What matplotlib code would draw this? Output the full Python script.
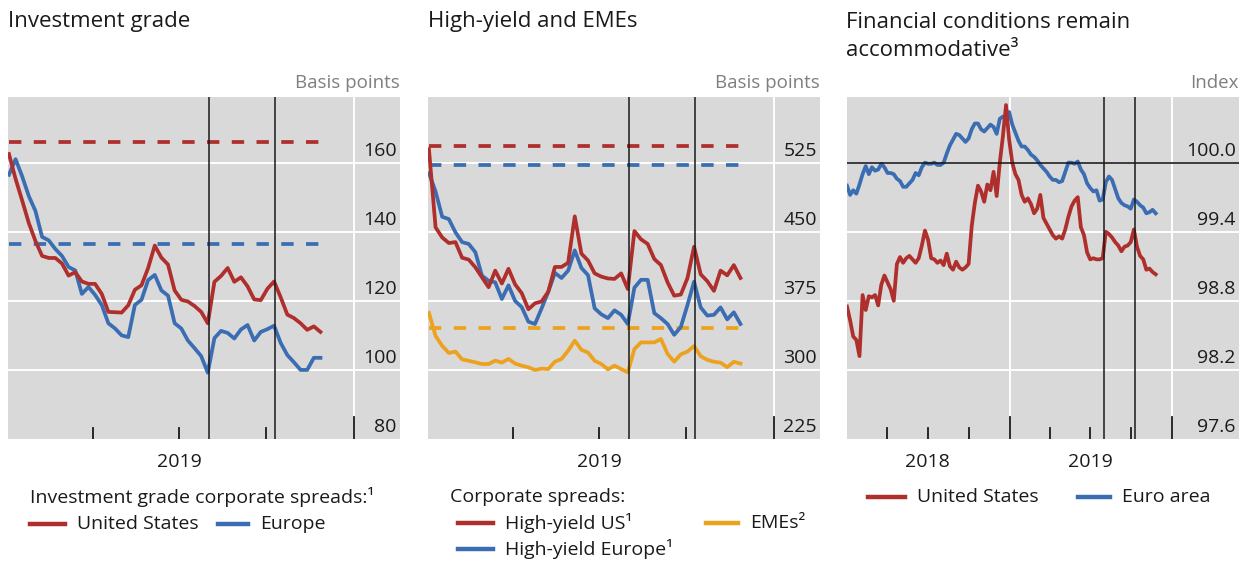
import pandas as pd
import matplotlib
matplotlib.use('Agg')
import matplotlib.pyplot as plt
import matplotlib.transforms as mtransforms
from matplotlib.lines import Line2D

plt.rcParams['font.family'] = ['Open Sans', 'DejaVu Sans']

RED = '#AE2F2C'
BLUE = '#3B6DB3'
ORANGE = '#EDA21F'
BG = '#D9D9D9'
TXT = '#1A1A1A'
LW = 2.7

# ---- data (weekly) ----
# Investment grade spreads, basis points, weekly from 2 Jan 2019
ig_us = [162.5, 155.3, 149.0, 142.5, 137.3, 133.0, 132.4, 132.4, 130.8, 127.3,
         128.3, 125.6, 124.9, 124.9, 122.0, 116.8, 116.7, 116.6, 118.7, 123.2,
         124.5, 129.5, 136.0, 132.5, 130.5, 123.0, 120.3, 119.8, 118.5, 116.8,
         113.5, 125.5, 127.2, 129.5, 125.5, 126.8, 124.2, 120.4, 120.2, 123.5,
         125.6, 121.0, 116.0, 115.0, 113.5, 111.6, 112.6, 111.0]
ig_eu = [156.5, 161.0, 156.0, 150.3, 146.0, 138.5, 137.5, 135.0, 133.0, 129.8,
         128.8, 122.0, 124.0, 121.7, 118.8, 113.5, 112.0, 110.0, 109.5, 118.8,
         120.3, 126.0, 127.5, 123.0, 121.5, 113.5, 112.0, 108.5, 106.3, 104.0,
         99.2, 109.2, 111.3, 110.7, 109.1, 111.7, 113.0, 108.5, 111.0, 111.8,
         112.8, 107.8, 104.3, 102.2, 100.0, 100.0, 103.5, 103.5]
ig_us_avg = 166.1
ig_eu_avg = 136.4

# High-yield and EME spreads, basis points, weekly from 2 Jan 2019
hy_us = [540, 455, 444, 438, 439, 422, 420, 411.6, 400.7, 390,
         408, 394, 410, 393, 383.5, 366, 372.5, 374.5, 385, 412,
         412, 416.5, 467, 426.5, 419, 405, 401.5, 399.5, 399, 405,
         388, 451, 442, 437, 420.6, 414, 395.3, 380.8, 382, 399.8,
         434, 404, 396.5, 386, 408, 402.9, 414, 400]
hy_eu = [514, 494, 466.5, 464, 449.6, 439, 437, 428, 402.5, 397,
         395.3, 377.2, 392, 375, 368.3, 352.5, 350, 367, 385, 405.5,
         400, 408, 430, 411, 403, 367, 360.5, 356.4, 364.8, 360,
         350, 389.5, 398, 398, 361.8, 356.3, 350, 338.2, 346.7, 370.5,
         396, 368, 359.1, 360, 368, 355, 362.7, 350]
emes = [362, 337, 326.2, 318.5, 320, 311.5, 310, 308.3, 306.5, 306.5,
        310.2, 308, 312, 307, 304.7, 302.9, 300, 301.5, 301, 309,
        312, 321, 331.9, 322, 319, 310, 306.5, 300.7, 304.7, 301,
        297.5, 322.8, 330, 330, 330, 333.7, 317.5, 309, 317, 320,
        326, 315, 311, 309, 308, 303, 309, 307]
hy_us_avg = 543.5
hy_eu_avg = 522.8
emes_avg = 345.7

# Financial conditions index, weekly from 1 Jan 2018
fci_us = [98.75, 98.63, 98.49, 98.46, 98.32, 98.85, 98.72, 98.84, 98.83, 98.85,
          98.76, 98.94, 99.02, 98.96, 98.90, 98.80, 99.12, 99.18, 99.13, 99.17,
          99.19, 99.16, 99.13, 99.17, 99.28, 99.41, 99.33, 99.17, 99.16, 99.13,
          99.15, 99.11, 99.21, 99.10, 99.07, 99.14, 99.09, 99.07, 99.09, 99.12,
          99.45, 99.65, 99.80, 99.75, 99.66, 99.81, 99.76, 99.92, 99.71, 100.00,
          100.23, 100.50, 100.20, 100.00, 99.90, 99.85, 99.72, 99.66, 99.69, 99.64,
          99.56, 99.60, 99.72, 99.52, 99.47, 99.42, 99.37, 99.34, 99.36, 99.34,
          99.42, 99.53, 99.62, 99.67, 99.70, 99.44, 99.37, 99.22, 99.16, 99.17,
          99.16, 99.16, 99.17, 99.40, 99.38, 99.35, 99.31, 99.28, 99.23, 99.27,
          99.28, 99.31, 99.42, 99.27, 99.19, 99.16, 99.07, 99.08, 99.05, 99.03]
fci_ea = [99.80, 99.72, 99.76, 99.73, 99.81, 99.90, 99.97, 99.90, 99.96, 99.93,
          99.94, 99.99, 99.96, 99.91, 99.91, 99.90, 99.86, 99.84, 99.79, 99.79,
          99.82, 99.85, 99.91, 99.89, 99.96, 100.00, 99.99, 99.99, 100.00, 99.98,
          99.98, 100.00, 100.08, 100.15, 100.20, 100.25, 100.24, 100.21, 100.18, 100.21,
          100.29, 100.34, 100.34, 100.29, 100.27, 100.30, 100.33, 100.31, 100.25, 100.38,
          100.40, 100.38, 100.44, 100.33, 100.26, 100.19, 100.14, 100.14, 100.11, 100.07,
          100.05, 100.02, 99.98, 99.95, 99.92, 99.88, 99.85, 99.85, 99.83, 99.84,
          99.92, 100.00, 100.00, 99.99, 100.01, 99.94, 99.90, 99.82, 99.78, 99.75,
          99.76, 99.67, 99.68, 99.83, 99.88, 99.85, 99.77, 99.69, 99.65, 99.63,
          99.62, 99.60, 99.68, 99.66, 99.63, 99.61, 99.56, 99.57, 99.59, 99.56]

weeks_2019 = pd.date_range('2019-01-02', periods=len(ig_us), freq='7D')
weeks_fci = pd.date_range('2018-01-01', periods=len(fci_us), freq='7D')
events = pd.to_datetime(['2019-08-01', '2019-10-10'])

ig_ticks = [80, 100, 120, 140, 160]
hy_ticks = [225, 300, 375, 450, 525]
fci_ticks = [97.6, 98.2, 98.8, 99.4, 100.0]

fig = plt.figure(figsize=(12.5, 5.62), dpi=100)
W, H = 1250, 562


def make_axes(x0):
    return fig.add_axes([x0 / W, 1 - 439 / H, 392 / W, 342 / H])


def setup(ax, xlim, ylim, yticks, ylabels, unit, years, quarters, year_labels):
    ax.set_facecolor(BG)
    for s in ax.spines.values():
        s.set_visible(False)
    ax.set_xlim(pd.Timestamp(xlim[0]), pd.Timestamp(xlim[1]))
    ax.set_ylim(*ylim)
    ax.set_xticks([])
    ax.set_yticks([])
    for v in yticks[1:]:
        ax.axhline(v, color='white', lw=1.4, zorder=1)
    xt = ax.get_xaxis_transform()
    for d in pd.to_datetime(years):
        ax.axvline(d, color='white', lw=1.4, zorder=1)
        ax.plot([d, d], [0, 22 / 342], transform=xt, color=TXT, lw=1.3, zorder=4)
    for d in pd.to_datetime(quarters):
        ax.plot([d, d], [0, 11 / 342], transform=xt, color=TXT, lw=1.3, zorder=4)
    lab_tr = mtransforms.offset_copy(ax.get_yaxis_transform(), fig=fig, y=12, units='dots')
    for v, s in zip(yticks, ylabels):
        ax.text(0.992, v, s, transform=lab_tr, ha='right', va='center',
                fontsize=14, color=TXT)
    ax.text(1.0, 1 + 14 / 342, unit, transform=ax.transAxes, ha='right',
            va='center', fontsize=13.5, color='#7F7F7F')
    for d, s in year_labels:
        ax.text(pd.Timestamp(d), -23 / 342, s, transform=xt, ha='center',
                va='center', fontsize=14, color=TXT)


def events_lines(ax):
    for d in events:
        ax.axvline(d, color=TXT, lw=1.1, zorder=3)


dash = (0, (3.3, 3.3))

# ---- panel 1 ----
ax1 = make_axes(8)
setup(ax1, ('2019-01-01', '2020-02-19'), (80, 179), ig_ticks,
      [str(v) for v in ig_ticks], 'Basis points',
      ['2020-01-01'], ['2019-04-01', '2019-07-01', '2019-10-01'],
      [('2019-07-01', '2019')])
events_lines(ax1)
ax1.plot([weeks_2019[0], weeks_2019[-1]], [ig_us_avg] * 2, color=RED, lw=LW, ls=dash, zorder=2)
ax1.plot([weeks_2019[0], weeks_2019[-1]], [ig_eu_avg] * 2, color=BLUE, lw=LW, ls=dash, zorder=2)
ax1.plot(weeks_2019, ig_eu, color=BLUE, lw=LW, zorder=2, solid_joinstyle='round')
ax1.plot(weeks_2019, ig_us, color=RED, lw=LW, zorder=2, solid_joinstyle='round')

# ---- panel 2 ----
ax2 = make_axes(428)
setup(ax2, ('2019-01-01', '2020-02-19'), (225, 596.7), hy_ticks,
      [str(v) for v in hy_ticks], 'Basis points',
      ['2020-01-01'], ['2019-04-01', '2019-07-01', '2019-10-01'],
      [('2019-07-01', '2019')])
events_lines(ax2)
ax2.plot([weeks_2019[0], weeks_2019[-1]], [hy_us_avg] * 2, color=RED, lw=LW, ls=dash, zorder=2)
ax2.plot([weeks_2019[0], weeks_2019[-1]], [hy_eu_avg] * 2, color=BLUE, lw=LW, ls=dash, zorder=2)
ax2.plot([weeks_2019[0], weeks_2019[-1]], [emes_avg] * 2, color=ORANGE, lw=LW, ls=dash, zorder=2)
ax2.plot(weeks_2019, emes, color=ORANGE, lw=LW, zorder=2, solid_joinstyle='round')
ax2.plot(weeks_2019, hy_eu, color=BLUE, lw=LW, zorder=2, solid_joinstyle='round')
ax2.plot(weeks_2019, hy_us, color=RED, lw=LW, zorder=2, solid_joinstyle='round')

# ---- panel 3 ----
ax3 = make_axes(847)
setup(ax3, ('2018-01-01', '2020-05-30'), (97.6, 100.57), fci_ticks,
      [f'{v:.1f}' for v in fci_ticks], 'Index',
      ['2019-01-01', '2020-01-01'],
      ['2018-04-01', '2018-07-01', '2018-10-01', '2019-04-01', '2019-07-01', '2019-10-01'],
      [('2018-07-01', '2018'), ('2019-07-01', '2019')])
ax3.axhline(100.0, color=TXT, lw=1.2, zorder=3)
events_lines(ax3)
ax3.plot(weeks_fci, fci_ea, color=BLUE, lw=LW, zorder=2, solid_joinstyle='round')
ax3.plot(weeks_fci, fci_us, color=RED, lw=LW, zorder=2, solid_joinstyle='round')

# ---- titles ----
fig.text(8 / W, 1 - 22 / H, 'Investment grade', fontsize=16, color=TXT, va='center')
fig.text(428 / W, 1 - 22 / H, 'High-yield and EMEs', fontsize=16, color=TXT, va='center')
fig.text(846 / W, 1 - 22 / H, 'Financial conditions remain', fontsize=16, color=TXT, va='center')
fig.text(846 / W, 1 - 50 / H, 'accommodative\u00b3', fontsize=16, color=TXT, va='center')


# ---- legends ----
def leg_item(x0, x1, y, color, label):
    fig.add_artist(Line2D([x0 / W, x1 / W], [1 - y / H, 1 - y / H], color=color,
                          lw=3.2, transform=fig.transFigure))
    fig.text((x1 + 12) / W, 1 - y / H, label, fontsize=14, color=TXT, va='center')


fig.text(30 / W, 1 - 497 / H, 'Investment grade corporate spreads:\u00b9', fontsize=14,
         color=TXT, va='center')
leg_item(30, 65, 524, RED, 'United States')
leg_item(218, 248, 524, BLUE, 'Europe')

fig.text(450 / W, 1 - 497 / H, 'Corporate spreads:', fontsize=14, color=TXT, va='center')
leg_item(458, 493, 523, RED, 'High-yield US\u00b9')
leg_item(706, 738, 523, ORANGE, 'EMEs\u00b2')
leg_item(458, 493, 549, BLUE, 'High-yield Europe\u00b9')

leg_item(868, 905, 497, RED, 'United States')
leg_item(1078, 1110, 497, BLUE, 'Euro area')

fig.savefig('out.png', dpi=100, facecolor='white')
